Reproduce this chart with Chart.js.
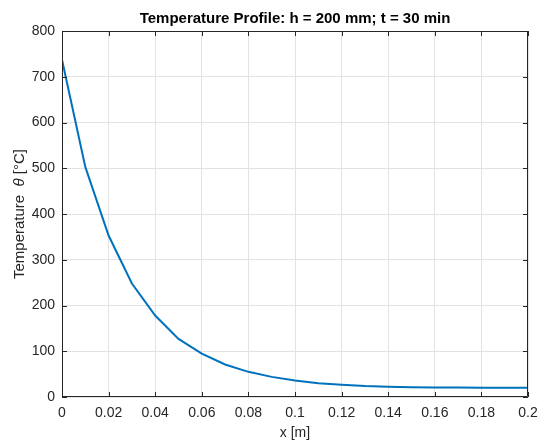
<!DOCTYPE html>
<html>
<head>
<meta charset="utf-8">
<script src="https://cdn.jsdelivr.net/npm/chart.js@4/dist/chart.umd.min.js"></script>
<style>
  html, body { margin: 0; padding: 0; background: #fff; }
  #wrap { width: 539px; height: 442px; }
</style>
</head>
<body>
<div id="wrap"><canvas id="tempChart"></canvas></div>
<script>
// positions along the slab [m]
const xPos = [0, 0.01, 0.02, 0.03, 0.04, 0.05, 0.06, 0.07, 0.08, 0.09, 0.10,
              0.11, 0.12, 0.13, 0.14, 0.15, 0.16, 0.17, 0.18, 0.19, 0.20];
// temperature at each position [°C]
const temps = [737, 503, 353, 248, 178, 127, 95, 71, 55, 44, 36,
               30, 27, 24, 22.5, 21.5, 21, 20.6, 20.3, 20.1, 20];

const xTicks = [0, 0.02, 0.04, 0.06, 0.08, 0.1, 0.12, 0.14, 0.16, 0.18, 0.2];
const yTicks = [0, 100, 200, 300, 400, 500, 600, 700, 800];

const axisColor = '#262626';
const font = 'Liberation Sans, Arial, sans-serif';

// MATLAB style box with inward ticks + y label with italic theta
const matlabAxes = {
    id: 'matlabAxes',
    afterDraw(chart) {
        const { ctx, chartArea: a, scales } = chart;
        ctx.save();
        ctx.strokeStyle = axisColor;
        ctx.lineWidth = 1;
        ctx.beginPath();
        ctx.rect(a.left + 0.5, a.top + 0.5, a.right - a.left - 1, a.bottom - a.top - 1);
        const len = 5;
        xTicks.forEach(v => {
            const px = Math.round(scales.x.getPixelForValue(v)) + 0.5;
            ctx.moveTo(px, a.bottom); ctx.lineTo(px, a.bottom - len);
            ctx.moveTo(px, a.top); ctx.lineTo(px, a.top + len);
        });
        yTicks.forEach(v => {
            const py = Math.round(scales.y.getPixelForValue(v)) + 0.5;
            ctx.moveTo(a.left, py); ctx.lineTo(a.left + len, py);
            ctx.moveTo(a.right, py); ctx.lineTo(a.right - len, py);
        });
        ctx.stroke();

        // y axis label
        const parts = [
            { t: 'Temperature  ', f: '15px ' + font },
            { t: 'θ', f: 'italic 15px ' + font },
            { t: ' [°C]', f: '15px ' + font }
        ];
        let total = 0;
        parts.forEach(p => { ctx.font = p.f; p.w = ctx.measureText(p.t).width; total += p.w; });
        ctx.translate(24, (a.top + a.bottom) / 2);
        ctx.rotate(-Math.PI / 2);
        ctx.fillStyle = axisColor;
        ctx.textBaseline = 'alphabetic';
        let x = -total / 2;
        parts.forEach(p => { ctx.font = p.f; ctx.fillText(p.t, x, 0); x += p.w; });
        ctx.restore();
    }
};

const ctx = document.getElementById('tempChart').getContext('2d');
new Chart(ctx, {
    type: 'line',
    data: {
        datasets: [{
            data: xPos.map((x, i) => ({ x: x, y: temps[i] })),
            borderColor: '#0072BD',
            borderWidth: 2,
            pointRadius: 0,
            tension: 0,
            fill: false
        }]
    },
    options: {
        responsive: true,
        maintainAspectRatio: false,
        animation: false,
        layout: { padding: { left: 0, right: 11, top: 0, bottom: 0 } },
        scales: {
            x: {
                type: 'linear',
                min: 0,
                max: 0.2,
                afterBuildTicks: s => { s.ticks = xTicks.map(v => ({ value: v })); },
                afterFit: s => { s.height = 45; s.paddingLeft = 0; s.paddingRight = 0; },
                grid: { color: '#e3e3e3', drawTicks: false },
                border: { display: false },
                ticks: {
                    color: axisColor,
                    font: { family: font, size: 14 },
                    padding: 8,
                    maxRotation: 0,
                    callback: v => String(parseFloat(v.toFixed(2)))
                },
                title: {
                    display: true,
                    text: 'x [m]',
                    color: axisColor,
                    font: { family: font, size: 14 },
                    padding: { top: 0, bottom: 0 }
                }
            },
            y: {
                min: 0,
                max: 800,
                afterBuildTicks: s => { s.ticks = yTicks.map(v => ({ value: v })); },
                afterFit: s => { s.width = 62; s.paddingTop = 0; s.paddingBottom = 0; },
                grid: { color: '#e3e3e3', drawTicks: false },
                border: { display: false },
                ticks: {
                    color: axisColor,
                    font: { family: font, size: 14 },
                    padding: 7
                }
            }
        },
        plugins: {
            legend: { display: false },
            tooltip: { enabled: false },
            title: {
                display: true,
                fullSize: false,
                text: 'Temperature Profile: h = 200 mm; t = 30 min',
                color: '#000',
                font: { family: font, size: 15, weight: 'bold' },
                padding: { top: 10, bottom: 3 }
            }
        }
    },
    plugins: [matlabAxes]
});
</script>
</body>
</html>
